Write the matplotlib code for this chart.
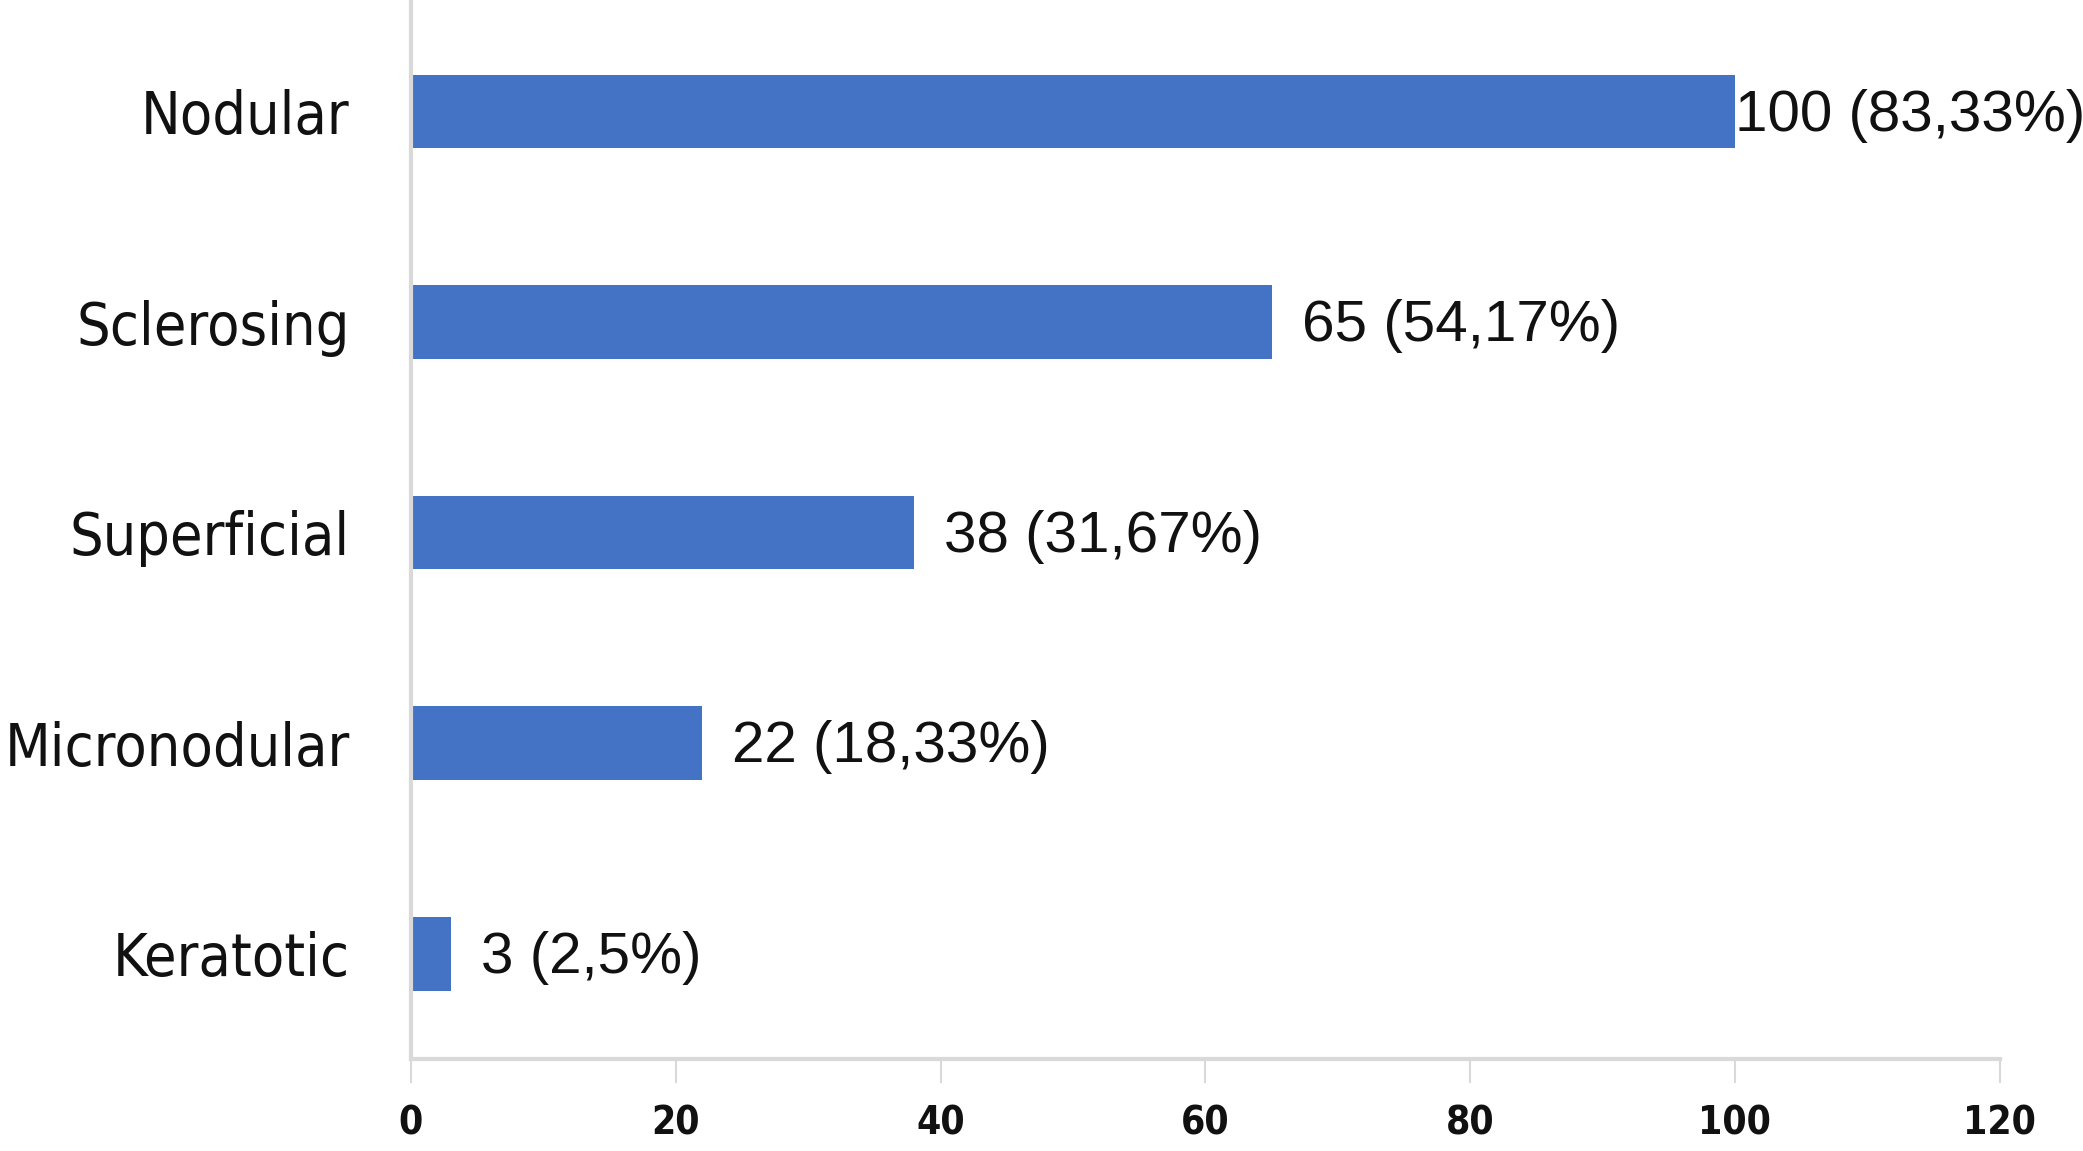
import matplotlib
matplotlib.use('Agg')
import matplotlib.pyplot as plt

categories = ['Nodular', 'Sclerosing', 'Superficial', 'Micronodular', 'Keratotic']
counts = [100, 65, 38, 22, 3]
percents = ['83,33', '54,17', '31,67', '18,33', '2,5']
xticks = [0, 20, 40, 60, 80, 100, 120]

BLUE = '#4472C4'
GREY = '#d9d9d9'

fig = plt.figure(figsize=(20.83, 11.51), dpi=100)
ax = fig.add_axes([0.1973, 0.080, 0.7627, 0.920])

pos = list(range(len(categories) - 1, -1, -1))
ax.barh(pos, counts, height=0.35, color=BLUE)

# value labels; the longest bar has its label touching the bar end
for y, c, p in zip(pos, counts, percents):
    off = 0 if c == max(counts) else 30
    ax.annotate(f'{c} ({p}%)', xy=(c, y), xytext=(off * 0.72, -3),
                textcoords='offset points', va='center', ha='left',
                fontsize=42, family='Liberation Sans', color='#111111')

ax.set_xlim(0, 120)
ax.set_ylim(-0.5, 4.53)
ax.set_yticks(pos)
ax.set_yticklabels(categories, fontsize=42.5, family='DejaVu Sans',
                   stretch='condensed', color='#111111')
ax.tick_params(axis='y', length=0, pad=44)
ax.set_xticks(xticks)
ax.set_xticklabels([str(t) for t in xticks], fontsize=28, family='DejaVu Sans',
                   stretch='condensed', fontweight='bold', color='#111111')
ax.tick_params(axis='x', length=17, width=1.5, color=GREY, pad=16)

for s in ['top', 'right']:
    ax.spines[s].set_visible(False)
for s in ['left', 'bottom']:
    ax.spines[s].set_color(GREY)
    ax.spines[s].set_linewidth(3)

fig.savefig('out.png', dpi=100, facecolor='white')
